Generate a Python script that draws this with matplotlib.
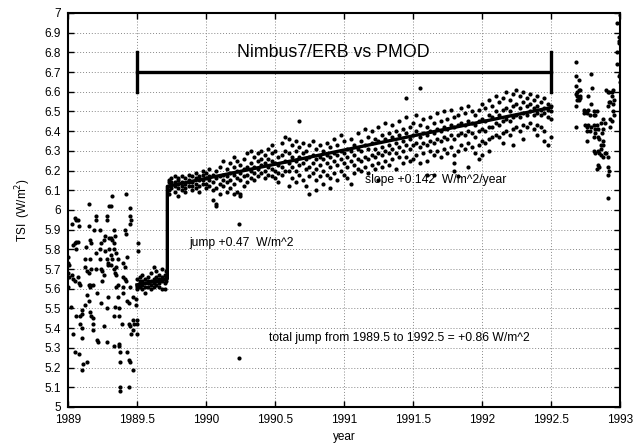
import matplotlib
matplotlib.use("Agg")
import matplotlib.pyplot as plt
from matplotlib.ticker import MultipleLocator, FuncFormatter

plt.rcParams['font.family'] = ['Liberation Sans', 'DejaVu Sans']

# 1989.0 - 1989.5 : noisy period (year, TSI)
early_pts = [
    (1989.00, 5.76), (1989.00, 5.73), (1989.01, 5.72), (1989.00, 5.68), (1989.00, 5.61),
    (1989.01, 5.66), (1989.02, 5.51), (1989.03, 5.67), (1989.04, 5.65), (1989.05, 5.64),
    (1989.03, 5.93), (1989.05, 5.96), (1989.06, 5.95), (1989.07, 5.95), (1989.04, 5.82),
    (1989.05, 5.83), (1989.06, 5.84), (1989.07, 5.84), (1989.06, 5.46), (1989.04, 5.37),
    (1989.05, 5.28), (1989.08, 5.27), (1989.08, 5.92), (1989.06, 5.80), (1989.07, 5.66),
    (1989.08, 5.63), (1989.09, 5.62), (1989.09, 5.46), (1989.10, 5.47), (1989.10, 5.49),
    (1989.09, 5.42), (1989.10, 5.40), (1989.10, 5.35), (1989.11, 5.22), (1989.10, 5.19),
    (1989.14, 5.23), (1989.12, 5.52), (1989.12, 5.71), (1989.12, 5.75), (1989.13, 5.81),
    (1989.14, 5.69), (1989.15, 5.68), (1989.15, 5.62), (1989.16, 5.61), (1989.16, 5.62),
    (1989.14, 5.57), (1989.15, 5.54), (1989.15, 6.03), (1989.15, 5.92), (1989.16, 5.85),
    (1989.17, 5.83), (1989.16, 5.75), (1989.16, 5.48), (1989.17, 5.46), (1989.18, 5.45),
    (1989.18, 5.39), (1989.18, 5.42), (1989.17, 5.70), (1989.18, 5.62), (1989.20, 5.97),
    (1989.20, 5.95), (1989.19, 5.90), (1989.20, 5.78), (1989.20, 5.70), (1989.21, 5.58),
    (1989.21, 5.34), (1989.22, 5.33), (1989.23, 5.90), (1989.23, 5.80), (1989.23, 5.75),
    (1989.24, 5.83), (1989.24, 5.70), (1989.25, 5.69), (1989.26, 5.67), (1989.25, 5.64),
    (1989.24, 5.53), (1989.26, 5.41), (1989.27, 5.79), (1989.26, 5.85), (1989.27, 5.87),
    (1989.28, 5.97), (1989.28, 5.95), (1989.28, 5.75), (1989.29, 5.72), (1989.29, 5.56),
    (1989.28, 5.50), (1989.28, 5.33), (1989.30, 6.02), (1989.31, 6.02), (1989.30, 5.86),
    (1989.31, 5.86), (1989.30, 5.80), (1989.31, 5.77), (1989.32, 5.75), (1989.29, 5.73),
    (1989.31, 5.72), (1989.32, 6.07), (1989.33, 5.83), (1989.33, 5.80), (1989.32, 5.85),
    (1989.33, 5.70), (1989.34, 5.68), (1989.35, 5.71), (1989.33, 5.90), (1989.34, 5.87),
    (1989.35, 5.78), (1989.36, 5.75), (1989.35, 5.67), (1989.35, 5.61), (1989.33, 5.46),
    (1989.34, 5.51), (1989.33, 5.31), (1989.36, 5.62), (1989.36, 5.56), (1989.37, 5.50),
    (1989.37, 5.46), (1989.37, 5.32), (1989.37, 5.31), (1989.38, 5.28), (1989.38, 5.23),
    (1989.38, 5.10), (1989.38, 5.08), (1989.39, 5.42), (1989.40, 5.61), (1989.40, 5.58),
    (1989.40, 5.73), (1989.41, 5.71), (1989.40, 5.66), (1989.41, 5.65), (1989.42, 5.64),
    (1989.41, 5.90), (1989.42, 5.88), (1989.42, 6.08), (1989.43, 5.76), (1989.43, 5.54),
    (1989.44, 5.53), (1989.44, 5.42), (1989.45, 5.41), (1989.43, 5.28), (1989.44, 5.24),
    (1989.45, 5.23), (1989.44, 5.10), (1989.45, 6.01), (1989.45, 5.97), (1989.46, 5.95),
    (1989.45, 5.93), (1989.45, 5.61), (1989.46, 5.37), (1989.47, 5.39), (1989.47, 5.19),
    (1989.47, 5.44), (1989.48, 5.42), (1989.47, 5.56), (1989.49, 5.55), (1989.49, 5.52),
    (1989.50, 5.37), (1989.50, 5.44), (1989.50, 5.42), (1989.51, 5.83), (1989.51, 5.79),
    (1989.50, 5.61),
]

# 1989.5 - 1989.72 : quiet period before the jump
quiet_cols = [
    (1989.50, [5.62, 5.60, 5.65]),
    (1989.52, [5.63, 5.61, 5.66, 5.64]),
    (1989.54, [5.64, 5.62, 5.67, 5.60]),
    (1989.56, [5.63, 5.61, 5.65, 5.58]),
    (1989.58, [5.66, 5.63, 5.61, 5.64]),
    (1989.60, [5.64, 5.62, 5.68, 5.60]),
    (1989.62, [5.65, 5.63, 5.71, 5.61]),
    (1989.64, [5.66, 5.64, 5.62, 5.69]),
    (1989.66, [5.65, 5.63, 5.61, 5.67]),
    (1989.68, [5.66, 5.64, 5.70, 5.60]),
    (1989.70, [5.67, 5.65, 5.63, 5.60]),
    (1989.71, [5.66, 5.64, 5.69]),
]

# 1989.72 - 1992.5 : after the jump
band_cols = [
    (1989.73, [6.15, 6.12, 6.10, 6.08, 6.14]),
    (1989.75, [6.16, 6.13, 6.11, 6.14]),
    (1989.775, [6.17, 6.14, 6.12, 6.09]),
    (1989.80, [6.15, 6.13, 6.11, 6.07, 6.16]),
    (1989.825, [6.14, 6.12, 6.10, 6.17]),
    (1989.85, [6.16, 6.13, 6.11, 6.09]),
    (1989.875, [6.15, 6.14, 6.12, 6.18]),
    (1989.90, [6.17, 6.14, 6.12, 6.10]),
    (1989.925, [6.16, 6.13, 6.19, 6.11]),
    (1989.95, [6.17, 6.15, 6.12, 6.09]),
    (1989.975, [6.18, 6.15, 6.13, 6.20]),
    (1990.00, [6.19, 6.16, 6.13, 6.11]),
    (1990.025, [6.17, 6.15, 6.21, 6.12]),
    (1990.05, [6.18, 6.14, 6.10, 6.05]),
    (1990.075, [6.20, 6.16, 6.11, 6.03, 6.02]),
    (1990.10, [6.22, 6.17, 6.13, 6.08]),
    (1990.125, [6.18, 6.15, 6.12, 6.25]),
    (1990.15, [6.21, 6.17, 6.14, 6.09]),
    (1990.175, [6.24, 6.19, 6.15, 6.11]),
    (1990.20, [6.22, 6.18, 6.13, 6.08, 6.27]),
    (1990.225, [6.25, 6.20, 6.16, 6.09]),
    (1990.25, [6.23, 6.19, 6.15, 6.08, 6.07]),
    (1990.275, [6.26, 6.21, 6.17, 6.12]),
    (1990.30, [6.29, 6.22, 6.18, 6.14]),
    (1990.325, [6.24, 6.20, 6.16, 6.30]),
    (1990.35, [6.27, 6.22, 6.19, 6.15]),
    (1990.375, [6.29, 6.25, 6.21, 6.17]),
    (1990.40, [6.26, 6.23, 6.19, 6.30]),
    (1990.425, [6.28, 6.24, 6.20, 6.16]),
    (1990.45, [6.31, 6.26, 6.22, 6.18]),
    (1990.475, [6.29, 6.25, 6.21, 6.17, 6.33]),
    (1990.50, [6.30, 6.24, 6.20, 6.16]),
    (1990.525, [6.27, 6.23, 6.19, 6.14]),
    (1990.55, [6.34, 6.28, 6.22, 6.18]),
    (1990.575, [6.37, 6.30, 6.25, 6.20]),
    (1990.60, [6.36, 6.29, 6.24, 6.20, 6.12]),
    (1990.625, [6.33, 6.27, 6.22, 6.16]),
    (1990.65, [6.35, 6.30, 6.25, 6.20, 6.14]),
    (1990.675, [6.32, 6.27, 6.23, 6.18, 6.45]),
    (1990.70, [6.34, 6.29, 6.24, 6.15]),
    (1990.725, [6.30, 6.26, 6.21, 6.12]),
    (1990.75, [6.33, 6.27, 6.22, 6.17, 6.08]),
    (1990.775, [6.35, 6.28, 6.24, 6.19]),
    (1990.80, [6.31, 6.26, 6.21, 6.15, 6.10]),
    (1990.825, [6.33, 6.27, 6.23, 6.17]),
    (1990.85, [6.30, 6.26, 6.20, 6.13]),
    (1990.875, [6.34, 6.28, 6.24, 6.18]),
    (1990.90, [6.32, 6.27, 6.22, 6.16, 6.11]),
    (1990.925, [6.36, 6.29, 6.25, 6.19]),
    (1990.95, [6.33, 6.28, 6.23, 6.15]),
    (1990.975, [6.38, 6.30, 6.26, 6.20]),
    (1991.00, [6.35, 6.29, 6.24, 6.18]),
    (1991.025, [6.31, 6.27, 6.22, 6.16]),
    (1991.05, [6.36, 6.30, 6.25, 6.13]),
    (1991.075, [6.33, 6.28, 6.23, 6.19]),
    (1991.10, [6.39, 6.31, 6.26, 6.21]),
    (1991.125, [6.35, 6.30, 6.25, 6.20]),
    (1991.15, [6.41, 6.33, 6.27, 6.22]),
    (1991.175, [6.37, 6.31, 6.26, 6.19]),
    (1991.20, [6.40, 6.34, 6.28, 6.23]),
    (1991.225, [6.36, 6.31, 6.27, 6.21]),
    (1991.25, [6.42, 6.35, 6.29, 6.24, 6.15]),
    (1991.275, [6.38, 6.32, 6.28, 6.22]),
    (1991.30, [6.44, 6.36, 6.30, 6.25]),
    (1991.325, [6.39, 6.33, 6.29, 6.23]),
    (1991.35, [6.43, 6.37, 6.31, 6.26]),
    (1991.375, [6.40, 6.34, 6.29, 6.21]),
    (1991.40, [6.45, 6.38, 6.32, 6.27]),
    (1991.425, [6.41, 6.35, 6.30, 6.24]),
    (1991.45, [6.47, 6.39, 6.33, 6.27, 6.57]),
    (1991.475, [6.42, 6.36, 6.31, 6.25]),
    (1991.50, [6.44, 6.38, 6.33, 6.26]),
    (1991.525, [6.48, 6.40, 6.34, 6.28]),
    (1991.55, [6.43, 6.37, 6.32, 6.24, 6.62]),
    (1991.575, [6.46, 6.39, 6.34, 6.29]),
    (1991.60, [6.42, 6.38, 6.33, 6.25, 6.18]),
    (1991.625, [6.47, 6.40, 6.35, 6.30]),
    (1991.65, [6.44, 6.39, 6.34, 6.28, 6.18]),
    (1991.675, [6.49, 6.41, 6.36, 6.30]),
    (1991.70, [6.45, 6.40, 6.35, 6.27]),
    (1991.725, [6.50, 6.42, 6.37, 6.31]),
    (1991.75, [6.46, 6.41, 6.36, 6.29]),
    (1991.775, [6.51, 6.43, 6.38, 6.32]),
    (1991.80, [6.47, 6.42, 6.36, 6.28, 6.24, 6.20]),
    (1991.825, [6.48, 6.43, 6.38, 6.30, 6.17]),
    (1991.85, [6.52, 6.44, 6.39, 6.33]),
    (1991.875, [6.49, 6.43, 6.38, 6.31]),
    (1991.90, [6.53, 6.45, 6.40, 6.34, 6.22]),
    (1991.925, [6.50, 6.44, 6.39, 6.32]),
    (1991.95, [6.48, 6.43, 6.37, 6.29]),
    (1991.975, [6.51, 6.45, 6.40, 6.33, 6.26]),
    (1992.00, [6.54, 6.46, 6.41, 6.35, 6.28]),
    (1992.025, [6.52, 6.45, 6.40, 6.34]),
    (1992.05, [6.56, 6.48, 6.42, 6.36, 6.30]),
    (1992.075, [6.53, 6.47, 6.42, 6.37]),
    (1992.10, [6.58, 6.50, 6.44, 6.38]),
    (1992.125, [6.55, 6.48, 6.43, 6.37]),
    (1992.15, [6.57, 6.51, 6.45, 6.39, 6.34]),
    (1992.175, [6.60, 6.52, 6.46, 6.40]),
    (1992.20, [6.56, 6.50, 6.45, 6.38]),
    (1992.225, [6.59, 6.53, 6.47, 6.41, 6.33]),
    (1992.25, [6.61, 6.54, 6.48, 6.42]),
    (1992.275, [6.58, 6.52, 6.47, 6.40]),
    (1992.30, [6.60, 6.55, 6.49, 6.43, 6.36]),
    (1992.325, [6.57, 6.53, 6.48, 6.42]),
    (1992.35, [6.59, 6.54, 6.50, 6.44]),
    (1992.375, [6.56, 6.52, 6.48, 6.41]),
    (1992.40, [6.58, 6.53, 6.49, 6.43, 6.38]),
    (1992.425, [6.55, 6.51, 6.48, 6.42]),
    (1992.45, [6.57, 6.52, 6.49, 6.40, 6.35]),
    (1992.475, [6.54, 6.51, 6.47, 6.33]),
    (1992.50, [6.53, 6.50, 6.46, 6.37]),
]

# isolated outliers
odd_pts = [(1990.237, 5.93), (1990.237, 5.25)]

# 1992.6 - 1993 : after the gap
late_pts = [
    (1992.68, 6.75), (1992.68, 6.68), (1992.70, 6.66), (1992.68, 6.63), (1992.69, 6.60),
    (1992.70, 6.61), (1992.71, 6.61), (1992.68, 6.59), (1992.69, 6.58), (1992.70, 6.57),
    (1992.71, 6.58), (1992.69, 6.56), (1992.70, 6.56), (1992.71, 6.57), (1992.68, 6.53),
    (1992.74, 6.51), (1992.75, 6.50), (1992.76, 6.49), (1992.77, 6.51), (1992.78, 6.48),
    (1992.74, 6.49), (1992.79, 6.69), (1992.80, 6.62), (1992.77, 6.58), (1992.79, 6.54),
    (1992.81, 6.50), (1992.81, 6.48), (1992.83, 6.50), (1992.82, 6.48), (1992.68, 6.42),
    (1992.75, 6.43), (1992.76, 6.42), (1992.77, 6.43), (1992.79, 6.42), (1992.76, 6.40),
    (1992.78, 6.40), (1992.76, 6.35), (1992.81, 6.43), (1992.82, 6.41), (1992.83, 6.43),
    (1992.84, 6.41), (1992.82, 6.39), (1992.84, 6.37), (1992.81, 6.37), (1992.85, 6.36),
    (1992.86, 6.44), (1992.88, 6.46), (1992.89, 6.44), (1992.88, 6.41), (1992.87, 6.39),
    (1992.88, 6.35), (1992.81, 6.30), (1992.82, 6.29), (1992.84, 6.30), (1992.85, 6.29),
    (1992.86, 6.31), (1992.86, 6.28), (1992.88, 6.27), (1992.89, 6.29), (1992.90, 6.29),
    (1992.91, 6.27), (1992.86, 6.33), (1992.88, 6.33), (1992.84, 6.23), (1992.85, 6.22),
    (1992.83, 6.21), (1992.91, 6.22), (1992.92, 6.20), (1992.91, 6.18), (1992.91, 6.06),
    (1992.94, 6.60), (1992.95, 6.61), (1992.94, 6.58), (1992.93, 6.55), (1992.95, 6.54),
    (1992.96, 6.56), (1992.95, 6.50), (1992.93, 6.46), (1992.94, 6.45), (1992.96, 6.48),
    (1992.93, 6.42), (1992.90, 6.61), (1992.91, 6.60), (1992.92, 6.60), (1992.92, 6.55),
    (1992.91, 6.53), (1992.98, 6.95), (1992.99, 6.86), (1992.99, 6.85), (1992.98, 6.80),
    (1992.98, 6.74), (1992.99, 6.68), (1993.00, 6.65), (1993.00, 6.69), (1993.00, 6.99),
    (1992.99, 6.88),
]

# step + trend fit line
fit_year = [1989.5, 1989.72, 1989.72, 1992.5]
fit_tsi = [5.62, 5.65, 6.12, 6.52]

# bracket marking the comparison period
bracket_start, bracket_end, bracket_level = 1989.5, 1992.5, 6.7

xs, ys = [], []
for x, y in early_pts + odd_pts + late_pts:
    xs.append(x)
    ys.append(y)
for x, col in quiet_cols + band_cols:
    for y in col:
        xs.append(x)
        ys.append(y)

fig = plt.figure(figsize=(6.37, 4.43), dpi=100)
ax = fig.add_axes([0.1067, 0.0813, 0.8666, 0.8894])

ax.plot(xs, ys, 'o', color='black', ms=3.0, mew=0, zorder=3)
ax.plot(fit_year, fit_tsi, color='black', lw=2.4, zorder=4)

ax.plot([bracket_start, bracket_end], [bracket_level, bracket_level], color='black', lw=2.4, zorder=4)
for bx in (bracket_start, bracket_end):
    ax.plot([bx, bx], [bracket_level - 0.1, bracket_level + 0.1], color='black', lw=2.4, zorder=4)

ax.text(1990.924, 6.80, "Nimbus7/ERB vs PMOD", fontsize=12.8, ha='center', va='center')
ax.text(1991.15, 6.152, "slope +0.142  W/m^2/year", fontsize=8.7, ha='left', va='center', zorder=5)
ax.text(1989.88, 5.834, "jump +0.47  W/m^2", fontsize=8.7, ha='left', va='center')
ax.text(1990.46, 5.349, "total jump from 1989.5 to 1992.5 = +0.86 W/m^2", fontsize=8.7,
        ha='left', va='center')

ax.set_xlim(1989, 1993)
ax.set_ylim(5, 7)
ax.xaxis.set_major_locator(MultipleLocator(0.5))
ax.yaxis.set_major_locator(MultipleLocator(0.1))
ax.xaxis.set_major_formatter(FuncFormatter(lambda v, p: "%g" % round(v, 1)))
ax.yaxis.set_major_formatter(FuncFormatter(lambda v, p: "%g" % round(v, 1)))
ax.tick_params(direction='in', top=True, right=True, length=4, width=1, labelsize=8.5, pad=5)
ax.grid(True, color='#888888', linestyle=(0, (1, 2)), lw=0.7)
ax.set_axisbelow(True)
for s in ax.spines.values():
    s.set_linewidth(1.5)

ax.set_xlabel("year", fontsize=8.5, labelpad=4)
ax.set_ylabel("TSI  (W/m$^2$)", fontsize=8.5, labelpad=8)

fig.savefig("out.png", dpi=100)
